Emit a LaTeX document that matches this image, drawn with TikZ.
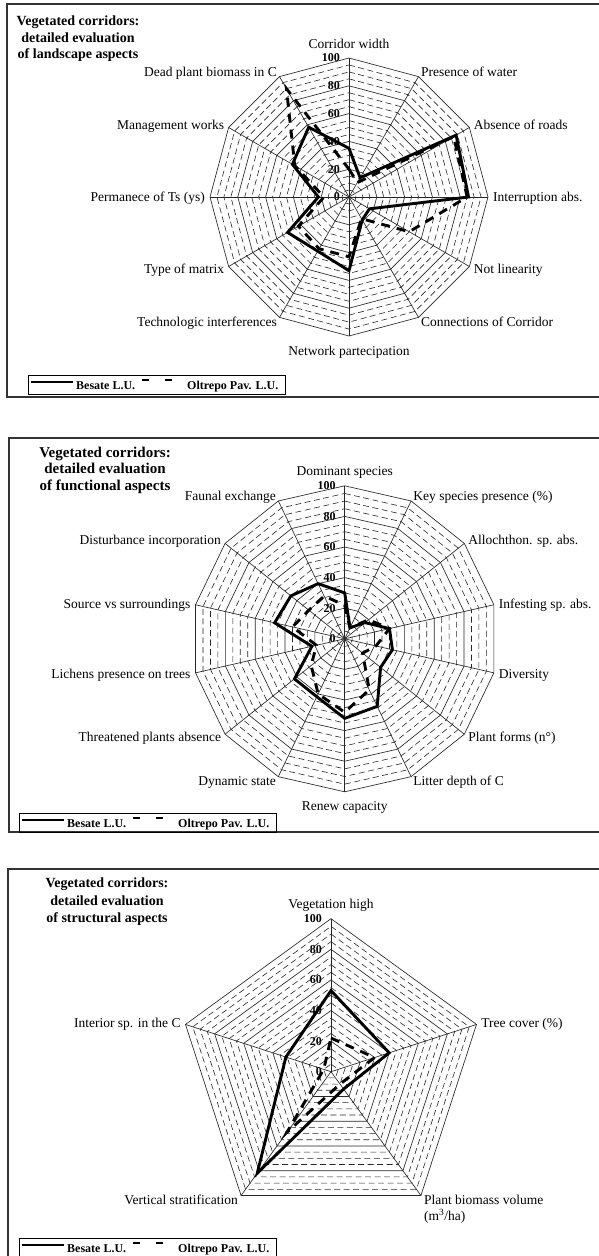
\documentclass[tikz,border=0pt]{standalone}
\usepackage{fontspec}
\setmainfont{Liberation Serif}
\usetikzlibrary{positioning}

% rings and spokes of one radar chart: centre x, centre y, radius, axes
\newcommand{\radargrid}[4]{%
  \pgfmathtruncatemacro{\lastax}{#4-1}
  \foreach \j in {1,...,20}{
    \pgfmathtruncatemacro{\ismajor}{mod(\j,4)==0}
    \ifnum\ismajor=1 \def\ringstyle{majorring}\else\def\ringstyle{minorring}\fi
    \draw[\ringstyle] ({#1},{#2-#3*\j/20})
      \foreach \ax in {1,...,\lastax}{ -- ({#1+#3*\j/20*cos(90-\ax*360/#4)},{#2-#3*\j/20*sin(90-\ax*360/#4)}) } -- cycle;
  }
  \foreach \ax in {0,...,\lastax}
    \draw[spoke] (#1,#2) -- ({#1+#3*cos(90-\ax*360/#4)},{#2-#3*sin(90-\ax*360/#4)});
}
% axis names: centre x, centre y, radius, axes, name prefix, names
\newcommand{\radarlabels}[6]{%
  \foreach \txt [count=\ax from 0] in {#6}{
    \pgfmathsetmacro{\cosa}{cos(90-\ax*360/#4)}
    \pgfmathsetmacro{\sina}{sin(90-\ax*360/#4)}
    \pgfmathtruncatemacro{\lside}{abs(\cosa)<0.01 ? 0 : (\cosa>0 ? 1 : 2)}
    \ifcase\lside \def\lanc{base}\def\ldist{14.5}\or \def\lanc{base west}\def\ldist{5}\or \def\lanc{base east}\def\ldist{5}\fi
    \pgfmathsetmacro{\lx}{#1+(#3+\ldist)*\cosa}
    \pgfmathsetmacro{\ly}{#2-(#3+\ldist)*\sina+4.5}
    \node[axislabel, anchor=\lanc] (#5\ax) at (\lx,\ly) {\txt};
  }
}
% scale values on the upper axis: centre x, centre y, radius, name prefix
\newcommand{\radarticks}[4]{%
  \foreach \tv in {0,20,...,100}
    \node[ticklabel] (#4\tv) at ({#1-9},{#2-#3*\tv/100}) {\tv};
}
% one data series: centre x, centre y, radius, axes, name prefix, style, values
\newcommand{\radarseries}[7]{%
  \pgfmathtruncatemacro{\lastax}{#4-1}
  \foreach \tv [count=\ax from 0] in {#7}
    \coordinate (#5\ax) at ({#1+#3*\tv/100*cos(90-\ax*360/#4)},{#2-#3*\tv/100*sin(90-\ax*360/#4)});
  \draw[#6] (#50) \foreach \ax in {1,...,\lastax}{ -- (#5\ax)} -- cycle;
}
% legend box: top left x, top left y, name prefix
\newcommand{\radarlegend}[3]{%
  \draw[legendbox] (#1,#2) rectangle ++(257,19);
  \draw[besate] (#1+3,#2+7) -- (#1+45,#2+7);
  \node[legendtext] (#3b) at (#1+48,#2+14) {Besate L.U.};
  \draw[oltrepo, dash pattern=on 7pt off 16pt] (#1+114,#2+5) -- (#1+146,#2+5);
  \node[legendtext] (#3o) at (#1+159,#2+14) {Oltrepo Pav. L.U.};
}

\begin{document}
\begin{tikzpicture}[x=1pt,y=-1pt,
  majorring/.style={draw=black!85, line width=0.65pt},
  minorring/.style={draw=black!85, line width=0.6pt, dash pattern=on 6pt off 3.5pt},
  spoke/.style={draw=black!85, line width=0.65pt},
  besate/.style={draw=black, line width=2.9pt, line join=miter},
  oltrepo/.style={draw=black, line width=2.9pt, dash pattern=on 9pt off 7pt},
  axislabel/.style={font=\fontsize{13.5}{16.5}\selectfont, inner sep=0pt},
  ticklabel/.style={font=\fontsize{12}{12}\selectfont\bfseries, anchor=east, inner sep=0pt},
  title/.style={font=\fontsize{14}{16.6}\selectfont\bfseries, align=center},
  legendtext/.style={font=\fontsize{12}{12}\selectfont\bfseries, anchor=base west, inner sep=0pt},
  legendbox/.style={draw=black, line width=0.8pt},
  frame/.style={draw=black!80, line width=1.5pt}]
\useasboundingbox (0,0) rectangle (599,1256);

% landscape aspects
\draw[frame] (599,4) -- (7,4) -- (7,397) -- (599,397);
\radarticks{349}{197}{139}{t1_}
\radargrid{349}{197}{139}{12}
\radarseries{349}{197}{139}{12}{o1_}{oltrepo}{20,12,87,85,50,18,43,43,42,18,45,90}
\radarseries{349}{197}{139}{12}{b1_}{besate}{35,16,89,86,17,19,53,45,51,22,47,58}
\radarlabels{349}{197}{139}{12}{l1_}{Corridor width, Presence of water, Absence of roads, Interruption abs., Not linearity, Connections of Corridor, Network partecipation, Technologic interferences, Type of matrix, Permanece of Ts (ys), Management works, Dead plant biomass in C}
\node[title] (title1) at (78,39) {Vegetated corridors:\\detailed evaluation\\of landscape aspects};
\radarlegend{28}{375}{g1_}

% functional aspects
\draw[frame] (599,438) -- (9,438) -- (9,832) -- (599,832);
\radarticks{344.7}{638.8}{153}{t2_}
\radargrid{344.7}{638.8}{153}{14}
\radarseries{344.7}{638.8}{153}{14}{o2_}{oltrepo}{22,8,20,30,21,15,37,48,40,28,19,35,30,31}
\radarseries{344.7}{638.8}{153}{14}{b2_}{besate}{30,8,17,30,32,30,49,52,42,42,22,47,45,40}
\radarlabels{344.7}{638.8}{153}{14}{l2_}{Dominant species, Key species presence (\%), Allochthon. sp. abs., Infesting sp. abs., Diversity, Plant forms (n°), Litter depth of C, Renew capacity, Dynamic state, Threatened plants absence, Lichens presence on trees, Source vs surroundings, Disturbance incorporation, Faunal exchange}
\node[title, font=\fontsize{15}{16.2}\selectfont\bfseries] (title2) at (105,470.2) {Vegetated corridors:\\detailed evaluation\\of functional aspects};
\radarlegend{19}{813}{g2_}

% structural aspects
\draw[frame] (599,869) -- (8,869) -- (8,1256);
\radarticks{331}{1071.7}{153}{t3_}
\radargrid{331}{1071.7}{153}{5}
\radarseries{331}{1071.7}{153}{5}{o3_}{oltrepo}{22,30,10,49,5}
\radarseries{331}{1071.7}{153}{5}{b3_}{besate}{53,40,14,82,31}
\radarlabels{331}{1071.7}{153}{5}{l3_}{Vegetation high, Tree cover (\%), {\begin{tabular}[t]{@{}l@{}}Plant biomass volume\\(m\textsuperscript{3}/ha)\end{tabular}}, Vertical stratification, Interior sp. in the C}
\node[title, font=\fontsize{14}{17.8}\selectfont\bfseries] (title3) at (107,901.7) {Vegetated corridors:\\detailed evaluation\\of structural aspects};
\radarlegend{19}{1238}{g3_}
\end{tikzpicture}
\end{document}
